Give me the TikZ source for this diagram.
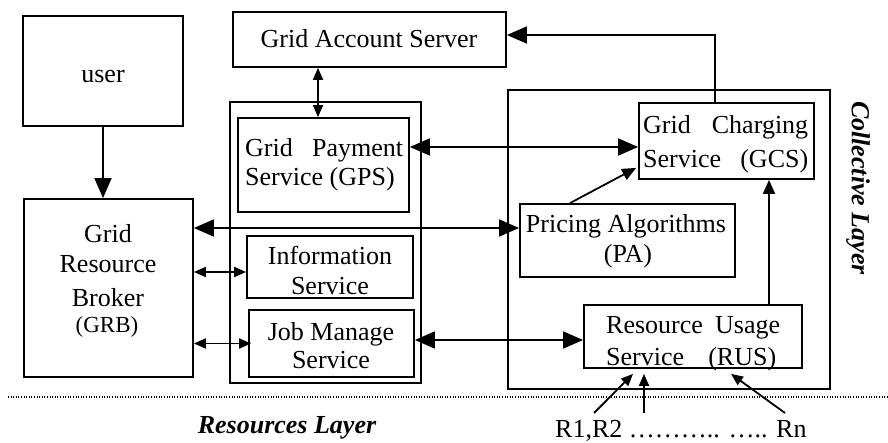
\documentclass[tikz,border=0pt]{standalone}
\usepackage{fontspec}
\setmainfont{Liberation Serif}
\usetikzlibrary{arrows.meta}
\tikzset{
  box/.style={draw, line width=1.8pt, inner sep=0pt},
  lbl/.style={inner sep=0pt, anchor=base, font=\fontsize{26}{31}\selectfont},
  lyr/.style={inner sep=0pt, font=\fontsize{26}{31}\selectfont\bfseries\itshape},
  conn/.style={line width=1.8pt},
  BigT/.tip={Triangle[length=20pt,width=17pt]},
  MidT/.tip={Triangle[length=14pt,width=12pt]},
  SmallT/.tip={Triangle[length=12pt,width=10pt]},
  dotline/.style={line width=1.2pt, dash pattern=on 1pt off 1.6pt}
}
\begin{document}
\begin{tikzpicture}[x=1pt,y=-1pt]
\useasboundingbox (0,0) rectangle (888,443);
% boxes
\node[box, minimum width=160pt, minimum height=110pt] (user) at (103,71) {};
\node[box, minimum width=273pt, minimum height=55pt] (gas) at (369.5,39.5) {};
\node[box, minimum width=169pt, minimum height=178pt] (grb) at (108.5,288) {};
\node[box, minimum width=191pt, minimum height=281pt] (mid) at (325.5,242.5) {};
\node[box, minimum width=171pt, minimum height=94pt] (gps) at (323.5,165) {};
\node[box, minimum width=166pt, minimum height=62pt] (info) at (330,267) {};
\node[box, minimum width=165pt, minimum height=67pt] (jms) at (331.5,343.5) {};
\node[box, minimum width=322pt, minimum height=299pt] (col) at (669,239.5) {};
\node[box, minimum width=175pt, minimum height=76pt] (gcs) at (726.5,141) {};
\node[box, minimum width=215pt, minimum height=73pt] (pa) at (627.5,240.5) {};
\node[box, minimum width=218pt, minimum height=63pt] (rus) at (693,336.5) {};
% texts
\node[lbl] (tuser) at (103,83) {user};
\node[lbl] (tgas) at (369,48) {Grid Account Server};
\node[lbl, anchor=base west] (tgps1) at (245,157) {\makebox[158pt][s]{Grid Payment}};
\node[lbl, anchor=base west] (tgps2) at (245,186) {Service (GPS)};
\node[lbl, anchor=base west] (tgcs1) at (643,134) {\makebox[165pt][s]{Grid Charging}};
\node[lbl, anchor=base west] (tgcs2) at (643,168) {\makebox[165pt][s]{Service (GCS)}};
\node[lbl] (tpa1) at (626,233) {Pricing Algorithms};
\node[lbl] (tpa2) at (628,263) {(PA)};
\node[lbl, anchor=base west] (trus1) at (606,333) {\makebox[174pt][s]{Resource Usage}};
\node[lbl, anchor=base west] (trus2) at (606,365) {\makebox[170pt][s]{Service (RUS)}};
\node[lbl] (tgrb1) at (108,243) {Grid};
\node[lbl] (tgrb2) at (108,273) {Resource};
\node[lbl] (tgrb3) at (108,306) {Broker};
\node[lbl, font=\fontsize{23}{28}\selectfont] (tgrb4) at (107,332) {(GRB)};
\node[lbl] (tinfo1) at (330,265) {Information};
\node[lbl] (tinfo2) at (330,295) {Service};
\node[lbl] (tjms1) at (331,341) {Job Manage};
\node[lbl] (tjms2) at (331,368) {Service};
\node[lyr, anchor=base] (tres) at (287,433) {Resources Layer};
\node[lyr, rotate=-90] (tcol) at (858,188) {Collective Layer};
\node[lbl, anchor=base west] (tr) at (555,437) {R1,R2 ……….. ….. Rn};
% connectors
\draw[conn, -BigT] (user.south) -- (user.south |- grb.north);
\draw[conn, SmallT-SmallT] ([xshift=-5.5pt]gps.north) -- ([xshift=-5.5pt]gps.north |- gas.south);
\draw[conn, -BigT] ([xshift=-11.5pt]gcs.north) |- ([yshift=4.5pt]gas.east);
\coordinate (gpsr) at ([yshift=18pt]gps.east);
\draw[conn, BigT-BigT] (gpsr) -- (gpsr -| gcs.west);
\coordinate (pal) at ([yshift=12.5pt]pa.west);
\draw[conn, BigT-BigT] (pal -| grb.east) -- (pal);
\draw[conn, -MidT] ([xshift=-57.5pt]pa.north) -- ([xshift=-2pt,yshift=12pt]gcs.south west);
\coordinate (rusn) at ([xshift=76pt]rus.north);
\draw[conn, -MidT] (rusn) -- (rusn |- gcs.south);
\coordinate (infl) at ([yshift=-5pt]info.west);
\draw[conn, SmallT-SmallT] (infl -| grb.east) -- (infl);
\coordinate (jmsl) at ([xshift=3pt]jms.west);
\draw[conn, SmallT-SmallT] (jmsl -| grb.east) -- (jmsl);
\coordinate (jmsr) at ([yshift=3.5pt]jms.east);
\draw[conn, BigT-BigT] (jmsr) -- (jmsr -| rus.west);
\coordinate (r1) at (594,413);
\coordinate (r2) at (644,413);
\coordinate (rn) at (785,413);
\draw[conn, -SmallT] (r1) -- ([xshift=-60pt,yshift=-5pt]rus.south);
\draw[conn, -SmallT] (r2) -- ([xshift=-49pt,yshift=-5pt]rus.south);
\draw[conn, -SmallT] (rn) -- ([xshift=38pt,yshift=-5pt]rus.south);
\coordinate (dl) at (8,397);
\coordinate (dr) at (888,397);
\draw[dotline] (dl) -- (dr);
\end{tikzpicture}
\end{document}
